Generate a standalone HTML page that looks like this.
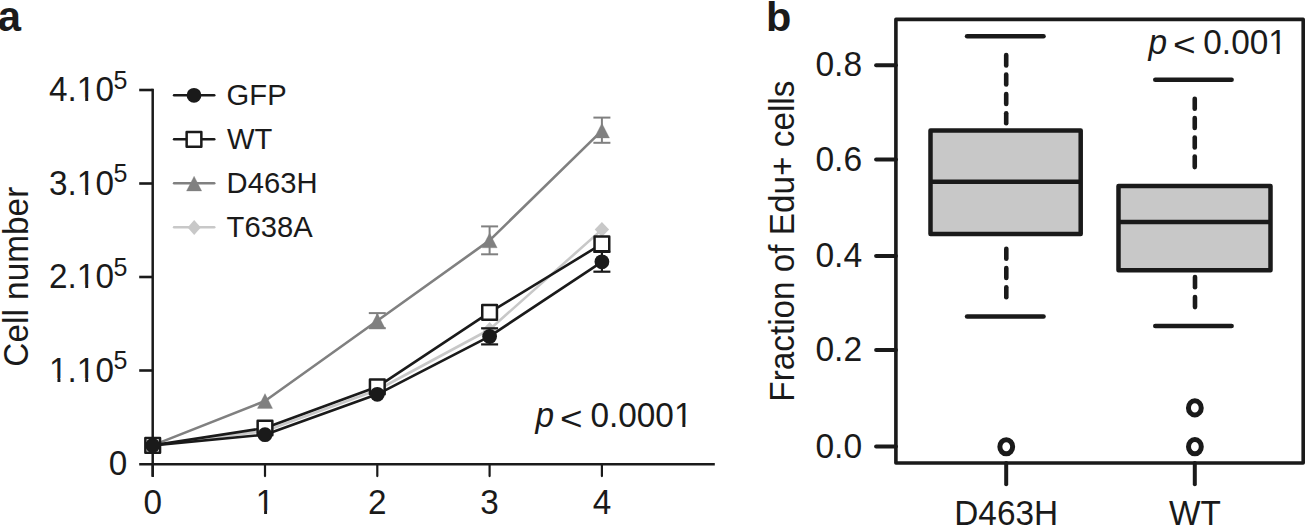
<!DOCTYPE html>
<html><head><meta charset="utf-8">
<style>
html,body{margin:0;padding:0;background:#fff;width:1305px;height:526px;overflow:hidden}
svg{display:block}
text{font-family:"Liberation Sans",sans-serif;fill:#1a1a1a}
</style></head><body>
<svg width="1305" height="526" viewBox="0 0 1305 526">
<rect width="1305" height="526" fill="#fff"/>
<text transform="translate(-2.30,30.50)" font-size="41.8" font-weight="bold">a</text>
<line x1="152.70" y1="88.80" x2="152.70" y2="464.10" stroke="#1a1a1a" stroke-width="2.5"/>
<line x1="139.20" y1="464.20" x2="714.80" y2="464.20" stroke="#1a1a1a" stroke-width="2.6"/>
<line x1="139.20" y1="370.50" x2="152.70" y2="370.50" stroke="#1a1a1a" stroke-width="2.6"/>
<line x1="139.20" y1="277.00" x2="152.70" y2="277.00" stroke="#1a1a1a" stroke-width="2.6"/>
<line x1="139.20" y1="183.50" x2="152.70" y2="183.50" stroke="#1a1a1a" stroke-width="2.6"/>
<line x1="139.20" y1="90.00" x2="152.70" y2="90.00" stroke="#1a1a1a" stroke-width="2.6"/>
<line x1="152.70" y1="464.00" x2="152.70" y2="476.10" stroke="#1a1a1a" stroke-width="2.2"/>
<line x1="265.00" y1="464.00" x2="265.00" y2="476.10" stroke="#1a1a1a" stroke-width="2.2" stroke-linecap="round"/>
<line x1="377.30" y1="464.00" x2="377.30" y2="476.10" stroke="#1a1a1a" stroke-width="2.2" stroke-linecap="round"/>
<line x1="489.60" y1="464.00" x2="489.60" y2="476.10" stroke="#1a1a1a" stroke-width="2.2" stroke-linecap="round"/>
<line x1="601.90" y1="464.00" x2="601.90" y2="476.10" stroke="#1a1a1a" stroke-width="2.2" stroke-linecap="round"/>
<line x1="152.70" y1="464.00" x2="152.70" y2="477.00" stroke="#1a1a1a" stroke-width="2.5"/>
<text transform="translate(127.20,475.10) scale(1,1.035)" font-size="33.3" text-anchor="end">0</text>
<text transform="translate(113.90,381.50) scale(1,1.035)" font-size="33.3" text-anchor="end">1.10</text>
<text transform="translate(127.30,369.30) scale(1,1.035)" font-size="25" text-anchor="end">5</text>
<text transform="translate(113.90,288.00) scale(1,1.035)" font-size="33.3" text-anchor="end">2.10</text>
<text transform="translate(127.30,275.80) scale(1,1.035)" font-size="25" text-anchor="end">5</text>
<text transform="translate(113.90,194.50) scale(1,1.035)" font-size="33.3" text-anchor="end">3.10</text>
<text transform="translate(127.30,182.30) scale(1,1.035)" font-size="25" text-anchor="end">5</text>
<text transform="translate(113.90,101.00) scale(1,1.035)" font-size="33.3" text-anchor="end">4.10</text>
<text transform="translate(127.30,88.80) scale(1,1.035)" font-size="25" text-anchor="end">5</text>
<text transform="translate(152.70,513.80) scale(1,1.035)" font-size="33.3" text-anchor="middle">0</text>
<text transform="translate(265.00,513.80) scale(1,1.035)" font-size="33.3" text-anchor="middle">1</text>
<text transform="translate(377.30,513.80) scale(1,1.035)" font-size="33.3" text-anchor="middle">2</text>
<text transform="translate(489.60,513.80) scale(1,1.035)" font-size="33.3" text-anchor="middle">3</text>
<text transform="translate(601.90,513.80) scale(1,1.035)" font-size="33.3" text-anchor="middle">4</text>
<text transform="translate(27.90,276.72) rotate(-90) scale(1,1.035)" font-size="33.4" text-anchor="middle">Cell number</text>
<text transform="translate(535.43,427.20) scale(1,1.035)" font-size="33.4" font-style="italic">p</text>
<text transform="translate(560.09,430.00) scale(1.163,1)" font-size="33.28">&lt;</text>
<text transform="translate(590.40,427.30) scale(1,1.035)" font-size="33.4">0.0001</text>
<polyline points="152.70,445.40 265.00,431.00 377.30,390.00 489.60,329.50 601.90,229.60" fill="none" stroke="#c8c8c8" stroke-width="2.6" stroke-linejoin="round"/>
<path d="M265.00 423.50 L272.20 431.00 L265.00 438.50 L257.80 431.00 Z" fill="#c8c8c8"/>
<path d="M377.30 382.50 L384.50 390.00 L377.30 397.50 L370.10 390.00 Z" fill="#c8c8c8"/>
<path d="M489.60 322.00 L496.80 329.50 L489.60 337.00 L482.40 329.50 Z" fill="#c8c8c8"/>
<path d="M601.90 222.10 L609.10 229.60 L601.90 237.10 L594.70 229.60 Z" fill="#c8c8c8"/>
<polyline points="152.70,445.40 265.00,401.00 377.30,320.70 489.60,240.40 601.90,130.60" fill="none" stroke="#808080" stroke-width="2.6" stroke-linejoin="round"/>
<line x1="377.30" y1="313.10" x2="377.30" y2="328.20" stroke="#808080" stroke-width="2.0"/>
<line x1="368.80" y1="313.10" x2="385.80" y2="313.10" stroke="#808080" stroke-width="2.0"/>
<line x1="368.80" y1="328.20" x2="385.80" y2="328.20" stroke="#808080" stroke-width="2.0"/>
<line x1="489.60" y1="226.40" x2="489.60" y2="254.30" stroke="#808080" stroke-width="2.0"/>
<line x1="481.10" y1="226.40" x2="498.10" y2="226.40" stroke="#808080" stroke-width="2.0"/>
<line x1="481.10" y1="254.30" x2="498.10" y2="254.30" stroke="#808080" stroke-width="2.0"/>
<line x1="601.90" y1="117.60" x2="601.90" y2="142.80" stroke="#808080" stroke-width="2.0"/>
<line x1="593.40" y1="117.60" x2="610.40" y2="117.60" stroke="#808080" stroke-width="2.0"/>
<line x1="593.40" y1="142.80" x2="610.40" y2="142.80" stroke="#808080" stroke-width="2.0"/>
<path d="M265.00 393.60 L272.60 408.40 L257.40 408.40 Z" fill="#808080" stroke="#808080" stroke-width="0.3" stroke-linejoin="round"/>
<path d="M377.30 313.30 L384.90 328.10 L369.70 328.10 Z" fill="#808080" stroke="#808080" stroke-width="0.3" stroke-linejoin="round"/>
<path d="M489.60 233.00 L497.20 247.80 L482.00 247.80 Z" fill="#808080" stroke="#808080" stroke-width="0.3" stroke-linejoin="round"/>
<path d="M601.90 123.20 L609.50 138.00 L594.30 138.00 Z" fill="#808080" stroke="#808080" stroke-width="0.3" stroke-linejoin="round"/>
<polyline points="152.70,445.40 265.00,428.00 377.30,386.80 489.60,312.40 601.90,243.90" fill="none" stroke="#1a1a1a" stroke-width="2.6" stroke-linejoin="round"/>
<rect x="145.35" y="438.05" width="14.7" height="14.7" fill="#fff" stroke="#1a1a1a" stroke-width="2.5" stroke-linejoin="round"/>
<rect x="257.65" y="420.65" width="14.7" height="14.7" fill="#fff" stroke="#1a1a1a" stroke-width="2.5" stroke-linejoin="round"/>
<rect x="369.95" y="379.45" width="14.7" height="14.7" fill="#fff" stroke="#1a1a1a" stroke-width="2.5" stroke-linejoin="round"/>
<rect x="482.25" y="305.05" width="14.7" height="14.7" fill="#fff" stroke="#1a1a1a" stroke-width="2.5" stroke-linejoin="round"/>
<rect x="594.55" y="236.55" width="14.7" height="14.7" fill="#fff" stroke="#1a1a1a" stroke-width="2.5" stroke-linejoin="round"/>
<polyline points="152.70,445.40 265.00,434.70 377.30,394.30 489.60,336.40 601.90,261.80" fill="none" stroke="#1a1a1a" stroke-width="2.6" stroke-linejoin="round"/>
<line x1="489.60" y1="328.30" x2="489.60" y2="344.40" stroke="#1a1a1a" stroke-width="2.2"/>
<line x1="481.10" y1="328.30" x2="498.10" y2="328.30" stroke="#1a1a1a" stroke-width="2.2"/>
<line x1="481.10" y1="344.40" x2="498.10" y2="344.40" stroke="#1a1a1a" stroke-width="2.2"/>
<line x1="601.90" y1="251.90" x2="601.90" y2="271.70" stroke="#1a1a1a" stroke-width="2.2"/>
<line x1="593.40" y1="251.90" x2="610.40" y2="251.90" stroke="#1a1a1a" stroke-width="2.2"/>
<line x1="593.40" y1="271.70" x2="610.40" y2="271.70" stroke="#1a1a1a" stroke-width="2.2"/>
<circle cx="152.70" cy="445.40" r="7.4" fill="#1a1a1a"/>
<circle cx="265.00" cy="434.70" r="7.4" fill="#1a1a1a"/>
<circle cx="377.30" cy="394.30" r="7.4" fill="#1a1a1a"/>
<circle cx="489.60" cy="336.40" r="7.4" fill="#1a1a1a"/>
<circle cx="601.90" cy="261.80" r="7.4" fill="#1a1a1a"/>
<line x1="174.10" y1="95.30" x2="214.20" y2="95.30" stroke="#1a1a1a" stroke-width="2.6" stroke-linecap="round"/>
<line x1="174.10" y1="139.30" x2="214.20" y2="139.30" stroke="#1a1a1a" stroke-width="2.6" stroke-linecap="round"/>
<line x1="174.10" y1="183.30" x2="214.20" y2="183.30" stroke="#808080" stroke-width="2.6" stroke-linecap="round"/>
<line x1="174.10" y1="227.20" x2="214.20" y2="227.20" stroke="#c8c8c8" stroke-width="2.6" stroke-linecap="round"/>
<circle cx="194.00" cy="95.30" r="7.4" fill="#1a1a1a"/>
<rect x="186.65" y="131.95" width="14.7" height="14.7" fill="#fff" stroke="#1a1a1a" stroke-width="2.5" stroke-linejoin="round"/>
<path d="M194.10 176.20 L201.70 191.00 L186.50 191.00 Z" fill="#808080" stroke="#808080" stroke-width="0.3" stroke-linejoin="round"/>
<path d="M194.20 219.90 L200.80 227.40 L194.20 234.90 L187.60 227.40 Z" fill="#c8c8c8"/>
<text transform="translate(226.60,104.70) scale(1,1.035)" font-size="29.2">GFP</text>
<text transform="translate(227.00,148.60) scale(1,1.035)" font-size="29.2">WT</text>
<text transform="translate(226.60,192.60) scale(1,1.035)" font-size="29.2">D463H</text>
<text transform="translate(226.60,236.50) scale(1,1.035)" font-size="29.2">T638A</text>
<text transform="translate(766.00,30.50)" font-size="41.5" font-weight="bold">b</text>
<rect x="895.9" y="19.4" width="407.30" height="443.60" fill="none" stroke="#1a1a1a" stroke-width="3.6" stroke-linejoin="round"/>
<line x1="876.10" y1="446.60" x2="895.90" y2="446.60" stroke="#1a1a1a" stroke-width="4.0" stroke-linecap="round"/>
<line x1="876.10" y1="350.00" x2="895.90" y2="350.00" stroke="#1a1a1a" stroke-width="4.0" stroke-linecap="round"/>
<line x1="876.10" y1="255.90" x2="895.90" y2="255.90" stroke="#1a1a1a" stroke-width="4.0" stroke-linecap="round"/>
<line x1="876.10" y1="159.60" x2="895.90" y2="159.60" stroke="#1a1a1a" stroke-width="4.0" stroke-linecap="round"/>
<line x1="876.10" y1="65.20" x2="895.90" y2="65.20" stroke="#1a1a1a" stroke-width="4.0" stroke-linecap="round"/>
<line x1="1006.20" y1="463.00" x2="1006.20" y2="484.30" stroke="#1a1a1a" stroke-width="4.0" stroke-linecap="round"/>
<line x1="1194.80" y1="463.00" x2="1194.80" y2="484.30" stroke="#1a1a1a" stroke-width="4.0" stroke-linecap="round"/>
<text transform="translate(862.10,457.50) scale(1,1.035)" font-size="33.6" text-anchor="end">0.0</text>
<text transform="translate(862.10,360.90) scale(1,1.035)" font-size="33.6" text-anchor="end">0.2</text>
<text transform="translate(862.10,266.80) scale(1,1.035)" font-size="33.6" text-anchor="end">0.4</text>
<text transform="translate(862.10,170.50) scale(1,1.035)" font-size="33.6" text-anchor="end">0.6</text>
<text transform="translate(862.10,76.10) scale(1,1.035)" font-size="33.6" text-anchor="end">0.8</text>
<text transform="translate(954.26,525.00) scale(1,1.035)" font-size="33.4">D463H</text>
<text transform="translate(1169.10,525.00) scale(1,1.035)" font-size="33.4">WT</text>
<text transform="translate(794.40,241.16) rotate(-90) scale(1,1.035)" font-size="33.3" text-anchor="middle">Fraction of Edu+ cells</text>
<text transform="translate(1148.43,53.80) scale(1,1.035)" font-size="33.4" font-style="italic">p</text>
<text transform="translate(1173.08,56.43) scale(1.155,1)" font-size="33.67">&lt;</text>
<text transform="translate(1203.30,53.90) scale(1,1.035)" font-size="33.4">0.001</text>
<rect x="930.5" y="130.6" width="150.20" height="103.30" fill="#c8c8c8" stroke="#1a1a1a" stroke-width="4.5" stroke-linejoin="round"/>
<line x1="930.50" y1="181.70" x2="1080.70" y2="181.70" stroke="#1a1a1a" stroke-width="4.5"/>
<rect x="1118.5" y="186.0" width="152.00" height="84.30" fill="#c8c8c8" stroke="#1a1a1a" stroke-width="4.5" stroke-linejoin="round"/>
<line x1="1118.50" y1="222.00" x2="1270.50" y2="222.00" stroke="#1a1a1a" stroke-width="4.5"/>
<line x1="967.10" y1="36.30" x2="1043.50" y2="36.30" stroke="#1a1a1a" stroke-width="4.6" stroke-linecap="round"/>
<line x1="967.10" y1="316.50" x2="1043.50" y2="316.50" stroke="#1a1a1a" stroke-width="4.6" stroke-linecap="round"/>
<line x1="1155.30" y1="79.80" x2="1231.60" y2="79.80" stroke="#1a1a1a" stroke-width="4.6" stroke-linecap="round"/>
<line x1="1155.30" y1="326.00" x2="1231.60" y2="326.00" stroke="#1a1a1a" stroke-width="4.6" stroke-linecap="round"/>
<line x1="1006.20" y1="55.10" x2="1006.20" y2="65.40" stroke="#1a1a1a" stroke-width="4.6" stroke-linecap="round"/>
<line x1="1006.20" y1="74.50" x2="1006.20" y2="84.40" stroke="#1a1a1a" stroke-width="4.6" stroke-linecap="round"/>
<line x1="1006.20" y1="94.00" x2="1006.20" y2="103.90" stroke="#1a1a1a" stroke-width="4.6" stroke-linecap="round"/>
<line x1="1006.20" y1="113.30" x2="1006.20" y2="123.30" stroke="#1a1a1a" stroke-width="4.6" stroke-linecap="round"/>
<line x1="1006.30" y1="248.70" x2="1006.30" y2="258.70" stroke="#1a1a1a" stroke-width="4.6" stroke-linecap="round"/>
<line x1="1006.30" y1="268.00" x2="1006.30" y2="278.00" stroke="#1a1a1a" stroke-width="4.6" stroke-linecap="round"/>
<line x1="1006.30" y1="287.20" x2="1006.30" y2="297.20" stroke="#1a1a1a" stroke-width="4.6" stroke-linecap="round"/>
<line x1="1194.75" y1="98.80" x2="1194.75" y2="108.70" stroke="#1a1a1a" stroke-width="4.6" stroke-linecap="round"/>
<line x1="1194.75" y1="118.10" x2="1194.75" y2="128.00" stroke="#1a1a1a" stroke-width="4.6" stroke-linecap="round"/>
<line x1="1194.75" y1="137.50" x2="1194.75" y2="147.40" stroke="#1a1a1a" stroke-width="4.6" stroke-linecap="round"/>
<line x1="1194.75" y1="156.50" x2="1194.75" y2="167.10" stroke="#1a1a1a" stroke-width="4.6" stroke-linecap="round"/>
<line x1="1195.00" y1="277.00" x2="1195.00" y2="287.30" stroke="#1a1a1a" stroke-width="4.6" stroke-linecap="round"/>
<line x1="1195.00" y1="297.00" x2="1195.00" y2="307.10" stroke="#1a1a1a" stroke-width="4.6" stroke-linecap="round"/>
<ellipse cx="1006.25" cy="446.75" rx="6.4" ry="7.1" fill="none" stroke="#1a1a1a" stroke-width="5"/>
<ellipse cx="1194.85" cy="407.9" rx="6.4" ry="7.1" fill="none" stroke="#1a1a1a" stroke-width="5"/>
<ellipse cx="1194.9" cy="446.7" rx="6.4" ry="7.1" fill="none" stroke="#1a1a1a" stroke-width="5"/>
<rect x="50.06" y="378.13" width="7.40" height="4.87" fill="#fff"/>
<rect x="60.41" y="378.13" width="7.06" height="4.87" fill="#fff"/>
<rect x="77.84" y="378.13" width="7.40" height="4.87" fill="#fff"/>
<rect x="88.18" y="378.13" width="7.06" height="4.87" fill="#fff"/>
<rect x="77.84" y="284.63" width="7.40" height="4.87" fill="#fff"/>
<rect x="88.18" y="284.63" width="7.06" height="4.87" fill="#fff"/>
<rect x="77.84" y="191.13" width="7.40" height="4.87" fill="#fff"/>
<rect x="88.18" y="191.13" width="7.06" height="4.87" fill="#fff"/>
<rect x="77.84" y="97.63" width="7.40" height="4.87" fill="#fff"/>
<rect x="88.18" y="97.63" width="7.06" height="4.87" fill="#fff"/>
<rect x="256.72" y="510.43" width="7.40" height="4.87" fill="#fff"/>
<rect x="267.06" y="510.43" width="7.06" height="4.87" fill="#fff"/>
<rect x="674.96" y="423.92" width="7.42" height="4.88" fill="#fff"/>
<rect x="685.33" y="423.92" width="7.08" height="4.88" fill="#fff"/>
<rect x="1269.28" y="50.52" width="7.42" height="4.88" fill="#fff"/>
<rect x="1279.65" y="50.52" width="7.08" height="4.88" fill="#fff"/>
</svg>
</body></html>
